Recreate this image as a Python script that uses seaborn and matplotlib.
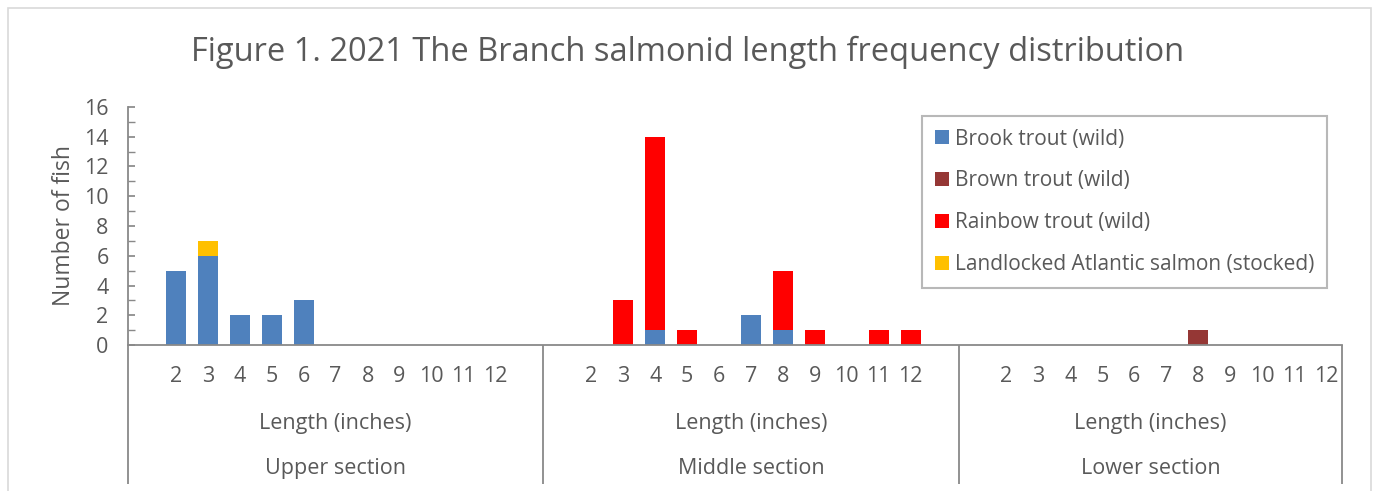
import matplotlib
matplotlib.use("Agg")
import matplotlib.pyplot as plt
import matplotlib.transforms as mtransforms
from matplotlib.patches import Rectangle, Patch
import seaborn as sns
import pandas as pd
import numpy as np

# --- data -------------------------------------------------------------
sections = ["Upper section", "Middle section", "Lower section"]
# each section holds a blank slot, lengths 2..12 and (except the last) a trailing blank slot
lengths = ["", "2", "3", "4", "5", "6", "7", "8", "9", "10", "11", "12", ""]
section_slots = [13, 13, 12]

series = ["Brook trout (wild)", "Brown trout (wild)", "Rainbow trout (wild)",
          "Landlocked Atlantic salmon (stocked)"]
colors = ["#4F81BD", "#953735", "#FF0000", "#FFC000"]

# counts per length 2..12
brook_upper = [5, 6, 2, 2, 3, 0, 0, 0, 0, 0, 0]
brook_middle = [0, 0, 1, 0, 0, 2, 1, 0, 0, 0, 0]
brook_lower = [0, 0, 0, 0, 0, 0, 0, 0, 0, 0, 0]
brown_upper = [0, 0, 0, 0, 0, 0, 0, 0, 0, 0, 0]
brown_middle = [0, 0, 0, 0, 0, 0, 0, 0, 0, 0, 0]
brown_lower = [0, 0, 0, 0, 0, 0, 1, 0, 0, 0, 0]
rainbow_upper = [0, 0, 0, 0, 0, 0, 0, 0, 0, 0, 0]
rainbow_middle = [0, 3, 13, 1, 0, 0, 4, 1, 0, 1, 1]
rainbow_lower = [0, 0, 0, 0, 0, 0, 0, 0, 0, 0, 0]
salmon_upper = [0, 1, 0, 0, 0, 0, 0, 0, 0, 0, 0]
salmon_middle = [0, 0, 0, 0, 0, 0, 0, 0, 0, 0, 0]
salmon_lower = [0, 0, 0, 0, 0, 0, 0, 0, 0, 0, 0]

counts = {
    series[0]: [brook_upper, brook_middle, brook_lower],
    series[1]: [brown_upper, brown_middle, brown_lower],
    series[2]: [rainbow_upper, rainbow_middle, rainbow_lower],
    series[3]: [salmon_upper, salmon_middle, salmon_lower],
}

# --- build long table -------------------------------------------------
rows = []
for si, sec in enumerate(sections):
    for k in range(section_slots[si]):
        lab = lengths[k]
        for name in series:
            v = counts[name][si][k - 1] if lab != "" else 0
            rows.append({"slot": f"{si}_{k}", "section": sec, "length": lab,
                         "species": name, "count": v})
df = pd.DataFrame(rows)
order = list(dict.fromkeys(df["slot"]))
wide = df.pivot(index="slot", columns="species", values="count").loc[order, series]
cum = wide.cumsum(axis=1)

GRAY = "#595959"
LINE = "#898989"
FS = 15.5

sns.set_theme(style="white")
plt.rcParams["font.family"] = ["Open Sans", "DejaVu Sans"]

fig = plt.figure(figsize=(13.76, 4.91), dpi=100)
ax = fig.add_axes([128 / 1376, 1 - 345 / 491, (1342 - 128) / 1376, (345 - 107) / 491])

# stacked bars: draw cumulative totals from top series down
for name, col in zip(series[::-1], colors[::-1]):
    d = pd.DataFrame({"slot": order, "val": cum[name].values})
    sns.barplot(data=d, x="slot", y="val", order=order, color=col, width=0.63,
                saturation=1, linewidth=0, ax=ax)

ax.set_xlim(-0.5, len(order) - 0.5)
ax.set_ylim(0, 16)
ax.set_yticks(np.arange(0, 17, 2))
ax.set_yticks(np.arange(1, 16, 2), minor=True)
ax.tick_params(axis="y", which="both", direction="in", length=5, color=LINE,
               labelsize=FS, labelcolor=GRAY, left=True, pad=14)
ax.set_xticks([])
ax.set_xlabel("")
ax.set_ylabel("Number of fish", fontsize=16.5, color=GRAY, labelpad=6)
for s in ["top", "right"]:
    ax.spines[s].set_visible(False)
for s in ["left", "bottom"]:
    ax.spines[s].set_color(LINE)
    ax.spines[s].set_linewidth(1.3)

# hierarchical category axis
trans = mtransforms.blended_transform_factory(ax.transData, ax.transAxes)
bottom_y = (345 - 484) / 238
start = 0
bounds = [-0.5]
for si, sec in enumerate(sections):
    n = section_slots[si]
    for k in range(n):
        lab = lengths[k]
        if lab:
            ax.text(start + k, (345 - 377) / 238, lab, transform=trans, ha="center",
                    va="center", fontsize=FS, color=GRAY)
    mid = start - 0.5 + n / 2
    ax.text(mid, (345 - 423) / 238, "Length (inches)", transform=trans, ha="center",
            va="center", fontsize=FS, color=GRAY)
    ax.text(mid, (345 - 468) / 238, sec, transform=trans, ha="center",
            va="center", fontsize=FS, color=GRAY)
    start += n
    bounds.append(start - 0.5)
for b in bounds:
    ax.plot([b, b], [0, bottom_y], transform=trans, color=LINE, lw=1.3,
            clip_on=False, solid_capstyle="butt")

# legend
handles = [Patch(facecolor=c, edgecolor="none") for c in colors]
leg = ax.legend(handles, series, loc="upper left", bbox_to_anchor=(922 / 1376, 1 - 116 / 491),
                bbox_transform=fig.transFigure, fontsize=15, labelcolor=GRAY,
                frameon=True, fancybox=False, handlelength=0.68, handleheight=0.68,
                handletextpad=0.3, labelspacing=1.0, borderpad=0.6,
                borderaxespad=0)
leg.get_frame().set_edgecolor("#A6A6A6")
leg.get_frame().set_linewidth(1.5)

fig.suptitle("Figure 1. 2021 The Branch salmonid length frequency distribution",
             fontsize=23.5, color=GRAY, y=1 - 52 / 491, va="center")

# outer chart border
fig.add_artist(Rectangle((8 / 1376, -0.05), (1371 - 8) / 1376, 1.05 - 8 / 491,
                         transform=fig.transFigure, fill=False, edgecolor="#D9D9D9",
                         linewidth=1.2))

fig.savefig("out.png", dpi=100)
